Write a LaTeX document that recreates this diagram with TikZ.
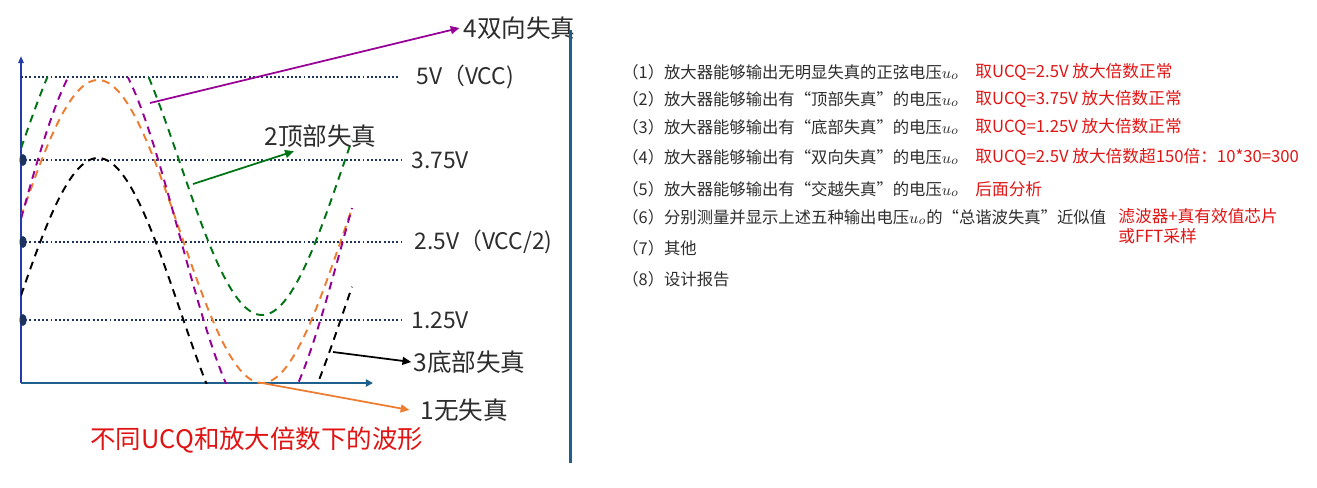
\documentclass[tikz,border=0pt]{standalone}
\usepackage{fontspec}
\setmainfont{Noto Sans CJK SC}
\usetikzlibrary{arrows.meta, positioning}
\definecolor{axisblue}{RGB}{35,60,170}
\definecolor{tealblue}{RGB}{30,95,140}
\definecolor{gridnavy}{RGB}{30,50,95}
\definecolor{wavegreen}{RGB}{0,115,20}
\definecolor{wavepurple}{RGB}{150,0,150}
\definecolor{waveorange}{RGB}{237,125,49}
\definecolor{notered}{RGB}{225,20,20}
\definecolor{textgray}{RGB}{45,45,45}

\begin{document}
\begin{tikzpicture}[
  x=0.02cm, y=-0.02cm,
  level/.style = {draw=gridnavy, line width=1.1pt, dash pattern=on 1.1pt off 1.3pt},
  wave/.style = {line width=1.1pt, dash pattern=on 4.5pt off 3.4pt, samples=160, domain=21:352},
  lbl/.style = {anchor=west, inner sep=0pt, font=\fontsize{14}{16}\selectfont, text=textgray},
  vlbl/.style = {anchor=west, inner sep=0pt, font=\fontsize{13}{15}\selectfont, text=textgray},
  item/.style = {anchor=west, inner sep=0pt, font=\fontsize{9.3}{11}\selectfont, text=textgray},
  note/.style = {anchor=west, inner sep=0pt, font=\fontsize{9.5}{11}\selectfont, text=notered},
  arr/.style = {-{Triangle[length=5pt,width=4.5pt]}, line width=1pt}
]
\useasboundingbox (0,0) rectangle (1317,487);

% axes and levels
\coordinate (O) at (21,383);
\draw[axisblue, line width=1pt, -{Triangle[length=4pt,width=3pt]}] (O) -- (21,56);
\draw[tealblue, line width=1.4pt, -{Triangle[length=4pt,width=4pt]}] (O) -- (373,383);
\draw[level] (21,77) -- (398,77);
\draw[level] (21,160) -- (402,160);
\draw[level] (21,242) -- (402,242);
\draw[level] (21,320) -- (402,320);
\foreach \y in {160,242,320}
  \fill[gridnavy] (23,\y) ellipse (3.5 and 6);

% waveforms
\begin{scope}
  \clip (21,77) rectangle (360,383.5);
  \draw[wave, black] plot (\x, {310-152*sin((\x-16)/328*360)});
  \draw[wave, wavegreen] plot (\x, {163-152*sin((\x-16)/328*360)});
  \draw[wave, waveorange] plot (\x, {231.5-151.5*sin((\x-16)/328*360)});
  \draw[wave, wavepurple] plot (\x, {237-190*sin((\x-16)/328*360)});
\end{scope}

% level labels
\node[vlbl] (v5) at (416,77) {5V（VCC)};
\node[vlbl] (v375) at (411,160) {3.75V};
\node[vlbl] (v25) at (414,242) {2.5V（VCC/2)};
\node[vlbl] (v125) at (411,320) {1.25V};

% distortion labels
\node[lbl] (d4) at (463,28) {4双向失真};
\node[lbl] (d2) at (264,136) {2顶部失真};
\node[lbl] (d3) at (413,362) {3底部失真};
\node[lbl] (d1) at (420,410) {1无失真};
\coordinate (s4) at (150,103);
\coordinate (s2) at (193,184);
\coordinate (s3) at (333,352);
\coordinate (s1) at (262,383);
\draw[arr, wavepurple] (s4) -- ([xshift=-2pt]d4.west);
\draw[arr, wavegreen] (s2) -- ([xshift=17pt,yshift=-2pt]d2.south west);
\draw[arr, black] (s3) -- ([xshift=-1pt]d3.west);
\draw[arr, waveorange] (s1) -- ([xshift=-6pt]d1.west);

\node[anchor=west, inner sep=0pt, font=\fontsize{14.5}{16}\selectfont, text=notered] (title) at (90,440) {不同UCQ和放大倍数下的波形};

% divider
\draw[tealblue, line width=1.7pt] (570,30) -- (570,463);

% task list
\node[item] (r1) at (622,72) {（1）放大器能够输出无明显失真的正弦电压$u_{o}$};
\node[item] (r2) at (622,99) {（2）放大器能够输出有“顶部失真”的电压$u_{o}$};
\node[item] (r3) at (622,127) {（3）放大器能够输出有“底部失真”的电压$u_{o}$};
\node[item] (r4) at (622,157) {（4）放大器能够输出有“双向失真”的电压$u_{o}$};
\node[item] (r5) at (622,189) {（5）放大器能够输出有“交越失真”的电压$u_{o}$};
\node[item] (r6) at (622,217) {（6）分别测量并显示上述五种输出电压$u_{o}$的“总谐波失真”近似值};
\node[item] (r7) at (622,248) {（7）其他};
\node[item] (r8) at (622,279) {（8）设计报告};

\node[note] (q1) at (975,72) {取UCQ=2.5V 放大倍数正常};
\node[note] (q2) at (975,99) {取UCQ=3.75V 放大倍数正常};
\node[note] (q3) at (975,127) {取UCQ=1.25V 放大倍数正常};
\node[note] (q4) at (975,157) {取UCQ=2.5V 放大倍数超150倍：10*30=300};
\node[note] (q5) at (975,189) {后面分析};
\node[note] (q6) at (1118,216) {滤波器+真有效值芯片};
\node[note, below=2pt of q6.south west, anchor=north west] (q7) {或FFT采样};

\end{tikzpicture}
\end{document}
